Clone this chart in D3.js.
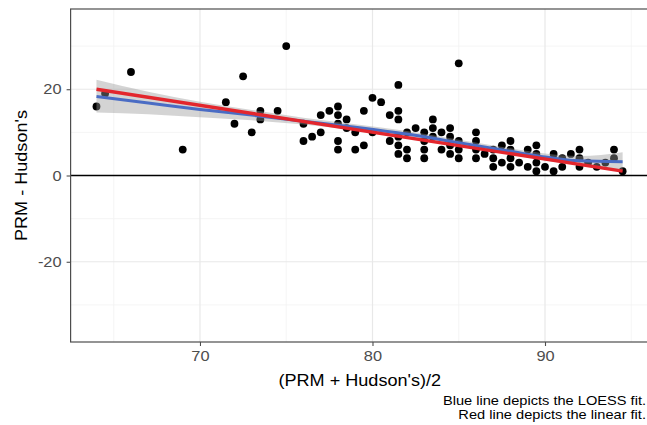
<!DOCTYPE html>
<html>
<head>
<meta charset="utf-8">
<script src="https://cdn.jsdelivr.net/npm/d3@7"></script>
<style>
  html, body {margin: 0; padding: 0; background: #fff;}
  svg {display: block;}
  text {font-family: "Liberation Sans", Arial, Helvetica, sans-serif;}
</style>
</head>
<body>
<svg id="chart" width="647" height="425"></svg>
<script>
"use strict";

// points: mean of the two methods vs difference
const meanVals = [64, 64.5, 66, 69, 71.5, 72, 72.5, 73, 73.5, 73.5, 74.5, 75, 76, 76, 76.5, 77, 77,
  77.5, 78, 78, 78, 78, 78, 78.5, 78.5, 79, 79, 79.5, 79.5, 80, 80, 80.5, 81, 81,
  81.5, 81.5, 81.5, 81.5, 81.5, 81.5, 82, 82, 82, 82.5, 83, 83, 83, 83, 83.5, 83.5, 83.5,
  84, 84, 84.5, 84.5, 84.5, 84.5, 85, 85, 85, 85, 86, 86, 86, 86, 86.5, 87, 87, 87,
  87.5, 87.5, 88, 88, 88, 88, 88.5, 89, 89, 89.5, 89.5, 89.5, 89.5, 90, 90.5, 90.5,
  91, 91, 91.5, 92, 92, 92, 92.5, 93, 93.5, 94, 94, 94.5];
const diffVals = [16, 19, 24, 6, 17, 12, 23, 10, 15, 13, 15, 30, 12, 8, 9, 14, 10,
  15, 16, 14, 12, 8, 6, 13, 11, 10, 6, 15, 7, 18, 10, 17, 14, 8,
  21, 15, 13, 9, 7, 5, 10, 6, 4, 11, 10, 8, 6, 4, 13, 11, 9,
  10, 6, 11, 9, 7, 5, 26, 8, 6, 4, 10, 8, 6, 4, 5, 6, 4, 2,
  7, 3, 8, 6, 4, 2, 3, 6, 2, 7, 5, 3, 1, 2, 5, 1,
  4, 2, 5, 6, 4, 2, 3, 2, 3, 6, 4, 1];

// fitted curves
const fitX = [64, 67, 70, 73, 76, 79, 82, 85, 88, 90, 92, 94.5];
const loessY = [18.3, 16.8, 15.3, 14.0, 12.6, 11.2, 9.6, 7.6, 5.6, 4.3, 3.4, 3.2];
const loessLo = [14.6, 14.2, 13.5, 12.8, 11.8, 10.5, 8.9, 6.9, 4.9, 3.5, 2.4, 1.3];
const loessHi = [22.2, 19.4, 17.1, 15.2, 13.4, 11.9, 10.3, 8.3, 6.3, 5.1, 4.5, 5.4];
const linX = [64, 94.5];
const linY = [20.0, 1.0];

const xTicks = [70, 80, 90];
const xMinor = [65, 75, 85, 95];
const yTicks = [-20, 0, 20];
const yMinor = [-30, -10, 10, 30];

const captionLines = ["Blue line depicts the LOESS fit.", "Red line depicts the linear fit."];

// the reference glyphs run wider than Liberation Sans
const stretch = 1.13;

function drawChart(){
  const svg = d3.select("#chart");
  const panel = {left: 70.6, right: 648.5, top: 9, bottom: 342};

  const x = d3.scaleLinear().domain([62.5, 96]).range([panel.left, panel.right]);
  const y = d3.scaleLinear().domain([-38.6, 38.6]).range([panel.bottom, panel.top]);

  const clip = svg.append("defs").append("clipPath").attr("id", "panelClip");
  clip.append("rect").attr("x", panel.left).attr("y", panel.top)
    .attr("width", panel.right - panel.left).attr("height", panel.bottom - panel.top);

  const g = svg.append("g").attr("clip-path", "url(#panelClip)");

  // grid, minor first
  g.selectAll("line.xminor").data(xMinor).join("line")
    .attr("x1", d => x(d)).attr("x2", d => x(d)).attr("y1", panel.top).attr("y2", panel.bottom)
    .attr("stroke", "#f2f2f2").attr("stroke-width", 0.8);
  g.selectAll("line.yminor").data(yMinor).join("line")
    .attr("y1", d => y(d)).attr("y2", d => y(d)).attr("x1", panel.left).attr("x2", panel.right)
    .attr("stroke", "#f2f2f2").attr("stroke-width", 0.8);
  g.selectAll("line.xmajor").data(xTicks).join("line")
    .attr("x1", d => x(d)).attr("x2", d => x(d)).attr("y1", panel.top).attr("y2", panel.bottom)
    .attr("stroke", "#e8e8e8").attr("stroke-width", 1.2);
  g.selectAll("line.ymajor").data(yTicks).join("line")
    .attr("y1", d => y(d)).attr("y2", d => y(d)).attr("x1", panel.left).attr("x2", panel.right)
    .attr("stroke", "#e8e8e8").attr("stroke-width", 1.2);

  // zero line
  g.append("line").attr("x1", panel.left).attr("x2", panel.right)
    .attr("y1", y(0)).attr("y2", y(0)).attr("stroke", "#000").attr("stroke-width", 1.5);

  // points
  g.selectAll("circle.pt").data(meanVals).join("circle")
    .attr("cx", d => x(d)).attr("cy", (d, i) => y(diffVals[i])).attr("r", 3.9)
    .attr("fill", "#000");

  // loess band over the points
  const band = d3.area().x((d, i) => x(fitX[i])).y0((d, i) => y(loessLo[i])).y1((d, i) => y(loessHi[i]))
    .curve(d3.curveMonotoneX);
  g.append("path").datum(fitX).attr("d", band).attr("fill", "#999").attr("opacity", 0.42);

  const loessLine = d3.line().x((d, i) => x(fitX[i])).y((d, i) => y(loessY[i])).curve(d3.curveMonotoneX);
  g.append("path").datum(fitX).attr("d", loessLine).attr("fill", "none")
    .attr("stroke", "#4a6cc4").attr("stroke-width", 3);

  const linLine = d3.line().x((d, i) => x(linX[i])).y((d, i) => y(linY[i]));
  g.append("path").datum(linX).attr("d", linLine).attr("fill", "none")
    .attr("stroke", "#e3262d").attr("stroke-width", 3.4);

  // panel border
  svg.append("rect").attr("x", panel.left).attr("y", panel.top)
    .attr("width", panel.right - panel.left).attr("height", panel.bottom - panel.top)
    .attr("fill", "none").attr("stroke", "#4d4d4d").attr("stroke-width", 1.2);

  // axes
  const xAxis = svg.append("g").attr("transform", `translate(0,${panel.bottom})`)
    .call(d3.axisBottom(x).tickValues(xTicks).tickFormat(d => String(d)).tickSize(4).tickPadding(5));
  const yAxis = svg.append("g").attr("transform", `translate(${panel.left},0)`)
    .call(d3.axisLeft(y).tickValues(yTicks).tickFormat(d => String(d)).tickSize(4).tickPadding(4));
  [xAxis, yAxis].forEach(a => {
    a.select(".domain").remove();
    a.selectAll(".tick line").attr("stroke", "#4d4d4d").attr("stroke-width", 1.1);
    a.selectAll(".tick text").attr("fill", "#4d4d4d").style("font-size", "14.5px")
      .attr("transform", `scale(${stretch},1)`)
      .style("font-family", "'Liberation Sans', Arial, sans-serif");
  });

  // titles
  svg.append("text").attr("transform", `translate(${(panel.left + 647) / 2 + 1},386) scale(${stretch},1)`)
    .attr("text-anchor", "middle").style("font-size", "16px").attr("fill", "#000")
    .text("(PRM + Hudson's)/2");
  svg.append("text").attr("transform", `translate(27,${y(0)}) rotate(-90) scale(${stretch},1)`)
    .attr("text-anchor", "middle").style("font-size", "16px").attr("fill", "#000")
    .text("PRM - Hudson's");

  svg.selectAll("text.caption").data(captionLines).join("text")
    .attr("class", "caption")
    .attr("transform", (d, i) => `translate(646,${405 + i * 14}) scale(${stretch + 0.04},1)`)
    .attr("text-anchor", "end").style("font-size", "12.5px").attr("fill", "#000")
    .text(d => d);
}

drawChart();
</script>
</body>
</html>
